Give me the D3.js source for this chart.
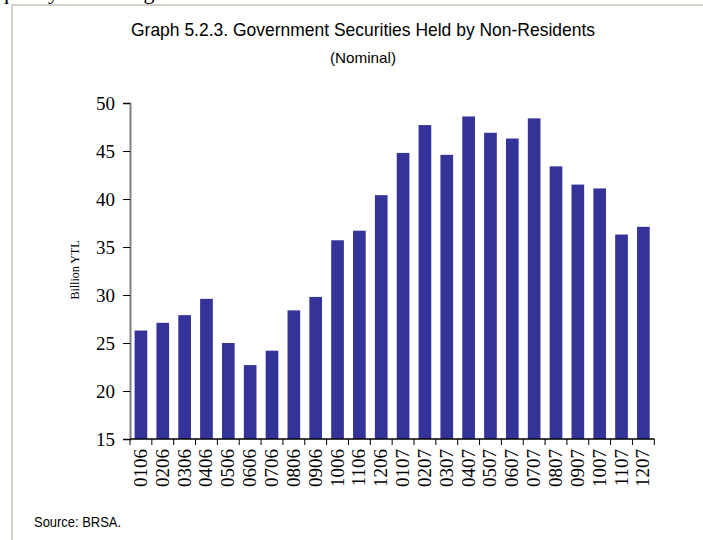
<!DOCTYPE html>
<html>
<head>
<meta charset="utf-8">
<script src="https://cdn.jsdelivr.net/npm/d3@7"></script>
<style>
  body { margin: 0; background: #fff; }
  svg { display: block; }
</style>
</head>
<body>
<div id="chart"></div>
<script>
// Government securities held by non-residents, bar chart

const months = ["0106","0206","0306","0406","0506","0606","0706","0806","0906","1006","1106","1206",
                "0107","0207","0307","0407","0507","0607","0707","0807","0907","1007","1107","1207"];
const holdings = [26.3, 27.1, 27.9, 29.6, 25.0, 22.7, 24.2, 28.4, 29.8, 35.7, 36.7, 40.4,
                  44.8, 47.7, 44.6, 48.6, 46.9, 46.3, 48.4, 43.4, 41.5, 41.1, 36.3, 37.1];
const yTicks = [15, 20, 25, 30, 35, 40, 45, 50];

const width = 703,
    height = 540,
    margin = ({ top: 103, right: 39, bottom: 101, left: 130 });

const narrow = "'Liberation Sans Narrow', 'Arial Narrow', 'Liberation Sans', Arial, sans-serif",
    serif = "'Liberation Serif', 'Times New Roman', serif";

const data = months.map((m, i) => ({ month: m, value: holdings[i] }));

const svg = d3.select("#chart")
    .append("svg")
    .attr("width", width)
    .attr("height", height);

// cut off line of text from the page above
svg.append("text")
    .attr("x", -2)
    .attr("y", -1)
    .attr("font-family", serif)
    .attr("font-size", 22)
    .attr("fill", "#000")
    .text("quality of earning");

// frame around the graph
svg.append("rect")
    .attr("x", 12)
    .attr("y", 5)
    .attr("width", 720)
    .attr("height", 560)
    .attr("fill", "#fff")
    .attr("stroke", "#d4d0c8")
    .attr("stroke-width", 2);

let x = d3.scaleBand()
    .domain(months)
    .range([margin.left, width - margin.right - 9.7])
    .paddingInner(0.42)
    .paddingOuter(0.21);

let y = d3.scaleLinear()
    .domain([15, 50])
    .range([height - margin.bottom, margin.top]);

// titles, squeezed to look like a narrow face
svg.append("text")
    .attr("x", 363)
    .attr("y", 36)
    .attr("text-anchor", "middle")
    .attr("font-family", narrow)
    .attr("font-size", 19)
    .attr("textLength", 464)
    .attr("lengthAdjust", "spacingAndGlyphs")
    .text("Graph 5.2.3. Government Securities Held by Non-Residents");

svg.append("text")
    .attr("x", 363)
    .attr("y", 63)
    .attr("text-anchor", "middle")
    .attr("font-family", narrow)
    .attr("font-size", 15)
    .attr("textLength", 66)
    .attr("lengthAdjust", "spacingAndGlyphs")
    .text("(Nominal)");

svg.selectAll("rect.bar")
    .data(data)
    .join("rect")
    .attr("class", "bar")
    .attr("x", d => x(d.month))
    .attr("y", d => y(d.value))
    .attr("width", x.bandwidth())
    .attr("height", d => y(15) - y(d.value))
    .attr("fill", "#333399");

// y axis
svg.append("g")
    .attr("transform", `translate(${margin.left},0)`)
    .call(d3.axisLeft(y)
      .tickValues(yTicks)
      .tickSizeOuter(0)
      .tickSize(7)
      .tickPadding(8))
    .call(g => g.select(".domain").attr("stroke", "#808080").attr("stroke-width", 2))
    .call(g => g.selectAll(".tick line").attr("stroke", "#000"))
    .call(g => g.selectAll(".tick text")
      .attr("font-family", serif)
      .attr("font-size", 19)
      .attr("fill", "#000"));

// x axis, ticks sit between the bars
const xEnd = width - margin.right - 9.7;
const step = (xEnd - margin.left) / months.length;
const xAxis = svg.append("g")
    .attr("transform", `translate(0,${height - margin.bottom})`);

xAxis.append("line")
    .attr("x1", margin.left)
    .attr("x2", xEnd)
    .attr("stroke", "#000")
    .attr("stroke-width", 1.5);

xAxis.selectAll("line.tick")
    .data(d3.range(months.length + 1))
    .join("line")
    .attr("class", "tick")
    .attr("x1", i => margin.left + i * step)
    .attr("x2", i => margin.left + i * step)
    .attr("y1", 0)
    .attr("y2", 6)
    .attr("stroke", "#000");

xAxis.selectAll("text")
    .data(months)
    .join("text")
    .attr("transform", d => `translate(${x(d) + x.bandwidth() / 2 + 6},10) rotate(-90)`)
    .attr("text-anchor", "end")
    .attr("font-family", serif)
    .attr("font-size", 19)
    .text(d => d);

svg.append("text")
    .attr("transform", `translate(79,270) rotate(-90)`)
    .attr("text-anchor", "middle")
    .attr("font-family", serif)
    .attr("font-size", 12)
    .text("Billion YTL");

svg.append("text")
    .attr("x", 34)
    .attr("y", 527)
    .attr("font-family", narrow)
    .attr("font-size", 15)
    .attr("textLength", 87)
    .attr("lengthAdjust", "spacingAndGlyphs")
    .text("Source: BRSA.");
</script>
</body>
</html>
